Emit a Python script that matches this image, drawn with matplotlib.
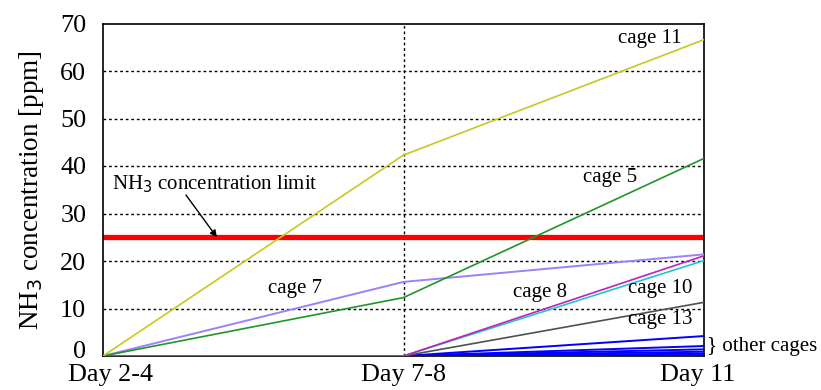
import matplotlib.pyplot as plt
import matplotlib.transforms as mtransforms
import numpy as np

plt.rcParams['font.family'] = ['Liberation Serif', 'DejaVu Serif']

days = ['Day 2-4', 'Day 7-8', 'Day 11']

cage11 = [0, 42.3, 66.6]
cage5 = [0, 12.3, 41.6]
cage7 = [0, 15.6, 21.4]
cage8 = [0, 0, 21.1]
cage10 = [0, 0, 20.1]
cage13 = [0, 0, 11.3]
other_cages = [
    [0, 0, 4.2],
    [0, 0, 2.1],
    [0, 0, 1.4],
    [0, 0, 0.9],
    [0, 0, 0.5],
    [0, 0, 0.2],
    [0, 0, 0.0],
]
limit = 25

x = np.arange(len(days))

fig = plt.figure(figsize=(8.21, 3.90), dpi=100)
ax = fig.add_axes([103 / 821, 34 / 390, 601 / 821, 332.5 / 390])

# dotted grid
for yv in range(10, 70, 10):
    ax.axhline(yv, color='black', linestyle=(0, (2, 2)), linewidth=1.0, zorder=1)
ax.axvline(1, color='black', linestyle=(0, (2, 2)), linewidth=1.0, zorder=1)

ax.axhline(limit, color='#ff0000', linewidth=3.8, zorder=2)

for vals in other_cages:
    ax.plot(x, vals, color='#0000ff', linewidth=1.4, zorder=3)
ax.plot(x, cage13, color='#505050', linewidth=1.2, zorder=3)
ax.plot(x, cage10, color='#20c8c8', linewidth=1.2, zorder=3)
ax.plot(x, cage8, color='#c020c0', linewidth=1.2, zorder=3)
ax.plot(x, cage7, color='#a080f8', linewidth=1.4, zorder=3)
ax.plot(x, cage5, color='#20962a', linewidth=1.2, zorder=3)
ax.plot(x, cage11, color='#c8c820', linewidth=1.2, zorder=3)

ax.set_xlim(0, 2)
ax.set_ylim(0, 70)
ax.set_xticks(x)
ax.set_xticklabels(days)
ax.set_yticks(range(0, 80, 10))
ax.tick_params(axis='both', length=0, labelsize=18.8)
ax.tick_params(axis='y', pad=12)
ax.tick_params(axis='x', pad=6)
for s in ax.spines.values():
    s.set_linewidth(1.2)

# nudge end labels inward like the reference
labels = ax.get_xticklabels()
labels[0].set_transform(labels[0].get_transform() + mtransforms.ScaledTranslation(0.07, 0, fig.dpi_scale_trans))
labels[2].set_transform(labels[2].get_transform() + mtransforms.ScaledTranslation(-0.06, 0, fig.dpi_scale_trans))
ylabels = ax.get_yticklabels()
ylabels[0].set_transform(ylabels[0].get_transform() + mtransforms.ScaledTranslation(0, 0.06, fig.dpi_scale_trans))

ax.set_ylabel('NH$_3$ concentration [ppm]', fontsize=19.5, labelpad=10)

fs = 15
ax.text(1.82, 66.9, 'cage 11', fontsize=fs, ha='center', va='center')
ax.text(1.687, 37.5, 'cage 5', fontsize=fs, ha='center', va='center')
ax.text(0.64, 14.3, 'cage 7', fontsize=fs, ha='center', va='center')
ax.text(1.454, 13.3, 'cage 8', fontsize=fs, ha='center', va='center')
ax.text(1.853, 14.3, 'cage 10', fontsize=fs, ha='center', va='center')
ax.text(1.853, 7.6, 'cage 13', fontsize=fs, ha='center', va='center')
ax.text(2.01, 2.1, '} other cages', fontsize=fs, ha='left', va='center', clip_on=False)

ax.text(0.373, 36.2, 'NH$_3$ concentration limit', fontsize=fs, ha='center', va='center')
ax.annotate('', xy=(0.379, 25), xytext=(0.276, 33.9),
            arrowprops=dict(arrowstyle='-|>', color='black', lw=1.0,
                            shrinkA=0, shrinkB=0, mutation_scale=10))

fig.savefig('out.png', dpi=100)
